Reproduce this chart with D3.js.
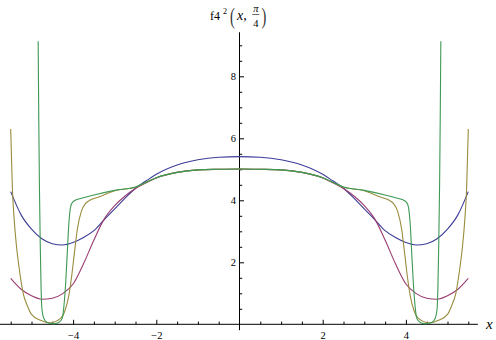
<!DOCTYPE html>
<html><head><meta charset="utf-8">
<script src="https://cdn.jsdelivr.net/npm/d3@7"></script>
<style>body{margin:0;background:#fff}svg{display:block;background:#fff}</style>
</head><body>
<svg id="chart" width="496" height="340"></svg>
<script>
// ---- data ----
const xMajorTicks = [-4, -2, 2, 4];
const xMinorTicks = [-5.5, -5, -4.5, -3.5, -3, -2.5, -1.5, -1, -0.5, 0.5, 1, 1.5, 2.5, 3, 3.5, 4.5, 5, 5.5];
const yMajorTicks = [2, 4, 6, 8];
const yMinorTicks = [0.5, 1, 1.5, 2.5, 3, 3.5, 4.5, 5, 5.5, 6.5, 7, 7.5, 8.5, 9];

const xsSmooth = [-5.5,-5.25,-5,-4.75,-4.5,-4.25,-4,-3.75,-3.5,-3.25,-3,-2.75,-2.5,-2.25,-2,-1.5,-1,-0.5,0,
                  0.5,1,1.5,2,2.25,2.5,2.75,3,3.25,3.5,3.75,4,4.25,4.5,4.75,5,5.25,5.5];
const series1 = [4.28,3.53,3.07,2.76,2.60,2.56,2.64,2.80,3.02,3.38,3.72,4.07,4.39,4.62,4.84,5.14,5.31,5.39,5.41,
                 5.39,5.31,5.14,4.84,4.62,4.39,4.07,3.72,3.38,3.02,2.80,2.64,2.56,2.60,2.76,3.07,3.53,4.28];
const series2 = [1.48,1.13,0.92,0.81,0.84,0.99,1.30,1.95,2.72,3.40,3.83,4.14,4.38,4.56,4.72,4.90,4.98,5.00,5.01,
                 5.00,4.98,4.90,4.72,4.56,4.38,4.14,3.83,3.40,2.72,1.95,1.30,0.99,0.84,0.81,0.92,1.13,1.48];

const xsSeries3 = [-5.5,-5.46,-5.42,-5.36,-5.3,-5.2,-5.1,-5,-4.8,-4.55,-4.3,-4.19,-4.1,-4.03,-3.96,-3.9,-3.8,-3.7,-3.6,-3.35,-3,-2.5,-2,-1.5,-1,-0.5,0,
                   0.5,1,1.5,2,2.5,3,3.35,3.6,3.7,3.8,3.9,3.96,4.03,4.1,4.19,4.3,4.55,4.8,5,5.1,5.2,5.3,5.36,5.42,5.46,5.5];
const series3 = [6.3,4.4,3.45,2.5,1.85,1.0,0.6,0.32,0.14,0.05,0.19,0.46,0.95,1.6,2.4,3.05,3.65,3.9,4.0,4.12,4.31,4.42,4.73,4.90,4.98,5.00,5.01,
                 5.00,4.98,4.90,4.73,4.42,4.31,4.12,4.0,3.9,3.65,3.05,2.4,1.6,0.95,0.46,0.19,0.05,0.14,0.32,0.6,1.0,1.85,2.5,3.45,4.4,6.3];

const xsSeries4 = [-4.84,-4.825,-4.81,-4.79,-4.77,-4.75,-4.7,-4.62,-4.5,-4.4,-4.33,-4.26,-4.22,-4.18,-4.14,-4.11,-4.08,-4.04,-3.98,-3.75,-3.5,-3,-2.5,-2,-1.5,-1,-0.5,0,
                   0.5,1,1.5,2,2.5,3,3.5,3.75,3.98,4.04,4.08,4.11,4.14,4.18,4.22,4.26,4.33,4.4,4.5,4.62,4.7,4.75,4.77,4.79,4.81,4.825,4.84];
const series4 = [9.13,6.6,4.5,2.6,1.2,0.5,0.18,0.06,0.02,0.03,0.08,0.2,0.6,1.3,2.3,3.1,3.6,3.88,3.98,4.08,4.17,4.32,4.43,4.73,4.90,4.98,5.00,5.01,
                 5.00,4.98,4.90,4.73,4.43,4.32,4.17,4.08,3.98,3.88,3.6,3.1,2.3,1.3,0.6,0.2,0.08,0.03,0.02,0.06,0.18,0.5,1.2,2.6,4.5,6.6,9.13];

const seriesColors = ["#3d3d99", "#993d71", "#998c3d", "#3d9954"];

// ---- drawing ----
const svg = d3.select("#chart");
const W = 496, H = 340;
svg.append("rect").attr("width", W).attr("height", H).attr("fill", "#fff");

const x = d3.scaleLinear().domain([-5.5, 5.5]).range([10.7, 468.3]);
const y = d3.scaleLinear().domain([0, 9]).range([324.3, 45.3]);
const serif = "'Liberation Serif', 'DejaVu Serif', serif";

// axis lines
svg.append("line").attr("x1", x(-5.76)).attr("x2", x(5.73)).attr("y1", y(0)).attr("y2", y(0))
  .attr("stroke", "#000").attr("stroke-width", 1);
svg.append("line").attr("x1", x(0)).attr("x2", x(0)).attr("y1", y(9.42)).attr("y2", y(-0.19))
  .attr("stroke", "#000").attr("stroke-width", 1);

function styleAxis(g) {
  g.select(".domain").remove();
  g.selectAll("line").attr("stroke", "#000").attr("stroke-width", 1);
  g.selectAll("text").attr("font-family", serif).attr("font-size", 10.5).attr("fill", "#000");
}

// x axis
svg.append("g").attr("transform", `translate(0,${y(0)})`)
  .call(d3.axisBottom(x).tickValues(xMajorTicks).tickSizeInner(-4.5).tickSizeOuter(0).tickPadding(7).tickFormat(d3.format("d")))
  .call(styleAxis);
svg.append("g").attr("transform", `translate(0,${y(0)})`)
  .call(d3.axisBottom(x).tickValues(xMinorTicks).tickSizeInner(-2.7).tickSizeOuter(0).tickFormat(""))
  .call(styleAxis);

// y axis
svg.append("g").attr("transform", `translate(${x(0)},0)`)
  .call(d3.axisLeft(y).tickValues(yMajorTicks).tickSizeInner(-4.5).tickSizeOuter(0).tickPadding(3.5).tickFormat(d3.format("d")))
  .call(styleAxis);
svg.append("g").attr("transform", `translate(${x(0)},0)`)
  .call(d3.axisLeft(y).tickValues(yMinorTicks).tickSizeInner(-2.7).tickSizeOuter(0).tickFormat(""))
  .call(styleAxis);

// curves
const line = d3.line().x(d => x(d[0])).y(d => y(d[1])).curve(d3.curveMonotoneX);
const allSeries = [
  [xsSmooth, series1],
  [xsSmooth, series2],
  [xsSeries3, series3],
  [xsSeries4, series4]
];
allSeries.forEach(([xs, ys], i) => {
  svg.append("path")
    .datum(xs.map((v, k) => [v, ys[k]]))
    .attr("d", line)
    .attr("fill", "none")
    .attr("stroke", seriesColors[i])
    .attr("stroke-width", 1.1)
    .attr("stroke-linejoin", "round");
});

// axis label x
svg.append("text").attr("x", 486).attr("y", 329).attr("font-family", serif)
  .attr("font-style", "italic").attr("font-size", 15).text("x");

// y-axis label: f4^2(x, π/4)
const t = svg.append("g").attr("font-family", serif).attr("fill", "#000");
t.append("text").attr("x", 210).attr("y", 20).attr("font-size", 12).text("f4");
t.append("text").attr("x", 223).attr("y", 14).attr("font-size", 8).text("2");
t.append("text").attr("transform", "translate(230,24) scale(0.6,1)").attr("font-size", 24).attr("fill", "#333").text("(");
t.append("text").attr("x", 237).attr("y", 20).attr("font-size", 14).attr("font-style", "italic").text("x,");
t.append("text").attr("x", 255.8).attr("y", 11.5).attr("font-size", 10.5).attr("font-style", "italic").attr("text-anchor", "middle").text("π");
t.append("line").attr("x1", 252.3).attr("x2", 259.3).attr("y1", 14.5).attr("y2", 14.5).attr("stroke", "#000").attr("stroke-width", 0.6);
t.append("text").attr("x", 255.8).attr("y", 27).attr("font-size", 10.5).attr("text-anchor", "middle").text("4");
t.append("text").attr("transform", "translate(261.5,24) scale(0.6,1)").attr("font-size", 24).attr("fill", "#333").text(")");
</script>
</body></html>
